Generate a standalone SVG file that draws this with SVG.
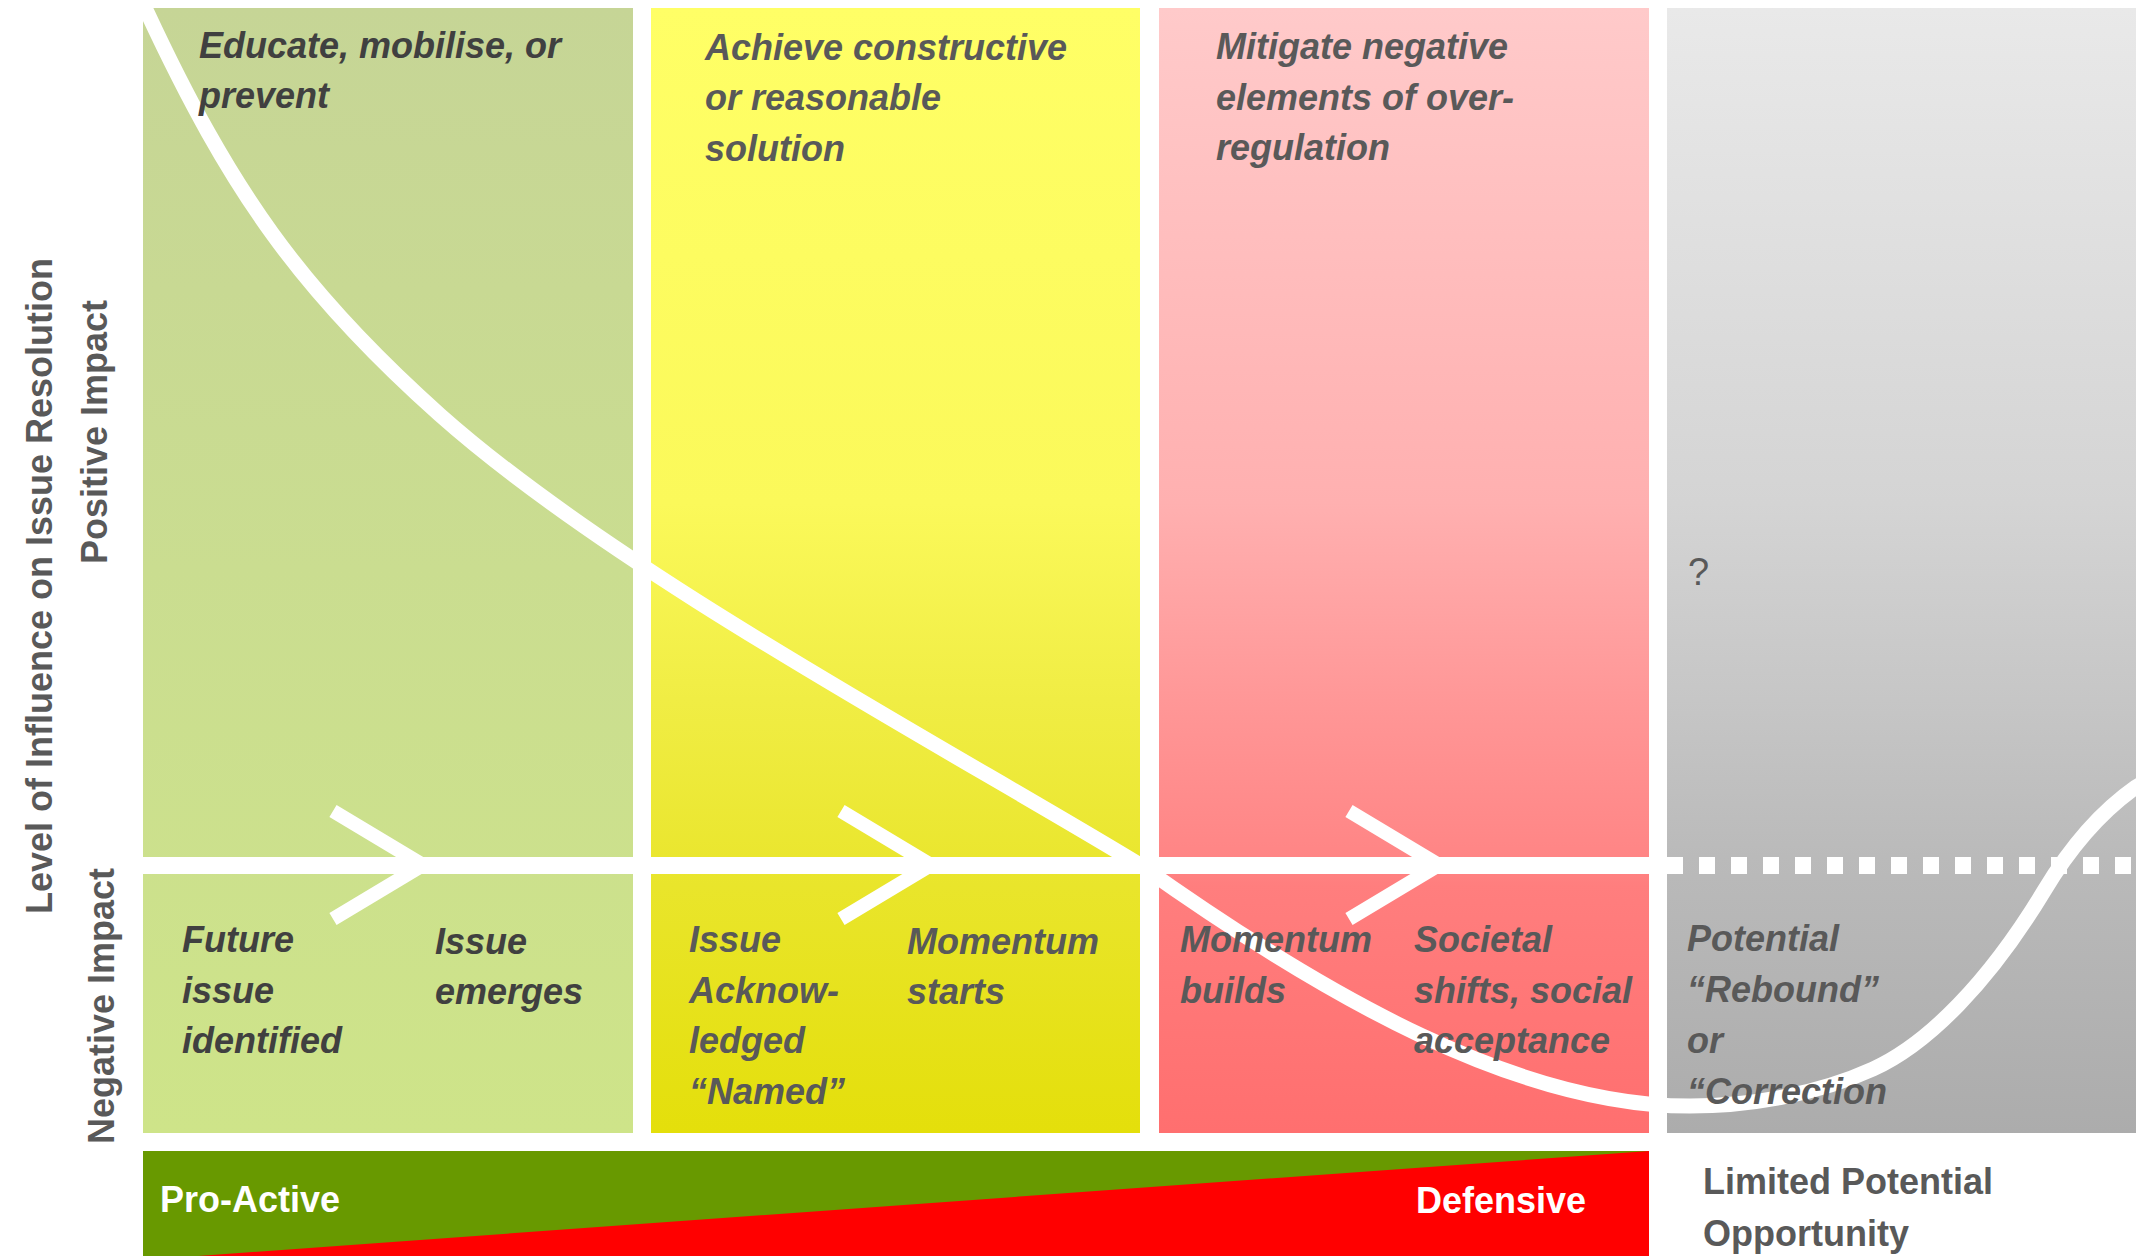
<svg xmlns="http://www.w3.org/2000/svg" width="2136" height="1256" viewBox="0 0 2136 1256">
<defs>
<linearGradient id="gGreen" x1="0" y1="0" x2="0" y2="1">
<stop offset="0" stop-color="#c6d596"/><stop offset="0.5" stop-color="#cadd90"/><stop offset="1" stop-color="#cee489"/>
</linearGradient>
<linearGradient id="gYellow" x1="0" y1="0" x2="0" y2="1">
<stop offset="0" stop-color="#ffff66"/><stop offset="0.44" stop-color="#fbf95a"/><stop offset="0.615" stop-color="#f0ed44"/><stop offset="0.78" stop-color="#e9e52b"/><stop offset="1" stop-color="#e4df0b"/>
</linearGradient>
<linearGradient id="gPink" x1="0" y1="0" x2="0" y2="1">
<stop offset="0" stop-color="#ffcaca"/><stop offset="0.44" stop-color="#ffb0b0"/><stop offset="0.615" stop-color="#ff9797"/><stop offset="0.755" stop-color="#ff8585"/><stop offset="0.78" stop-color="#ff7e7e"/><stop offset="1" stop-color="#ff6f6f"/>
</linearGradient>
<linearGradient id="gGrey" x1="0" y1="0" x2="0" y2="1">
<stop offset="0" stop-color="#e9e9e9"/><stop offset="0.44" stop-color="#d4d4d4"/><stop offset="0.615" stop-color="#c6c6c6"/><stop offset="0.755" stop-color="#bababa"/><stop offset="1" stop-color="#acacac"/>
</linearGradient>
</defs>
<style>
.lbl{font-family:"Liberation Sans",Arial,sans-serif;font-weight:bold;font-style:italic;font-size:36px;fill:#595959}
.dark{fill:#404040}
.axis{font-family:"Liberation Sans",Arial,sans-serif;font-weight:bold;font-size:36px;fill:#595959}
.bar{font-family:"Liberation Sans",Arial,sans-serif;font-weight:bold;font-size:36px;fill:#ffffff}
.wline{fill:none;stroke:#ffffff}
</style>
<rect width="2136" height="1256" fill="#ffffff"/>

<g id="col-educate">
<rect x="143" y="8" width="490" height="1125" fill="url(#gGreen)"/>
</g>
<g id="col-achieve">
<rect x="651" y="8" width="489" height="1125" fill="url(#gYellow)"/>
</g>
<g id="col-mitigate">
<rect x="1159" y="8" width="490" height="1125" fill="url(#gPink)"/>
</g>
<g id="col-rebound">
<rect x="1667" y="8" width="469" height="1125" fill="url(#gGrey)"/>
</g>

<g id="connectors">
<line class="wline" x1="143" y1="865.5" x2="1667" y2="865.5" stroke-width="17"/>
<line class="wline" x1="1667" y1="865.5" x2="2136" y2="865.5" stroke-width="17" stroke-dasharray="16 16"/>
<polyline class="wline" points="333,811 423,865 333,919" stroke-width="14" stroke-linejoin="miter"/>
<polyline class="wline" points="841,811 931,865 841,919" stroke-width="14" stroke-linejoin="miter"/>
<polyline class="wline" points="1349,811 1439,865 1349,919" stroke-width="14" stroke-linejoin="miter"/>
<path class="wline" stroke-width="15" d="M 143 3 L 147 12 C 230 190, 300 290, 440 415 C 620 575, 960 755, 1140 865 C 1330 1000, 1520 1106, 1690 1106 C 1750 1106, 1818 1094, 1873 1069 C 1928 1044, 1989 982, 2044 891 C 2074 841, 2106 808, 2136 787 L 2160 772"/>
</g>

<g id="axis-labels">
<text class="axis" transform="translate(52,586) rotate(-90)" text-anchor="middle">Level of Influence on Issue Resolution</text>
<text class="axis" transform="translate(107,432) rotate(-90)" text-anchor="middle">Positive Impact</text>
<text class="axis" transform="translate(114,1006) rotate(-90)" text-anchor="middle">Negative Impact</text>
</g>

<g id="label-educate">
<text class="lbl dark" x="199" y="58">Educate, mobilise, or<tspan x="199" y="108">prevent</tspan></text>
</g>
<g id="label-achieve">
<text class="lbl" x="705" y="60">Achieve constructive<tspan x="705" y="110">or reasonable</tspan><tspan x="705" y="161">solution</tspan></text>
</g>
<g id="label-mitigate">
<text class="lbl" x="1216" y="59">Mitigate negative<tspan x="1216" y="110">elements of over-</tspan><tspan x="1216" y="160">regulation</tspan></text>
</g>
<g id="label-question">
<text x="1688" y="585" style="font-family:'Liberation Sans',Arial,sans-serif;font-size:38px;fill:#595959">?</text>
</g>

<g id="stage-future">
<text class="lbl dark" x="182" y="952">Future<tspan x="182" y="1003">issue</tspan><tspan x="182" y="1053">identified</tspan></text>
</g>
<g id="stage-emerges">
<text class="lbl dark" x="435" y="954">Issue<tspan x="435" y="1004">emerges</tspan></text>
</g>
<g id="stage-acknowledged">
<text class="lbl" x="689" y="952">Issue<tspan x="689" y="1003">Acknow-</tspan><tspan x="689" y="1053">ledged</tspan><tspan x="689" y="1104">“Named”</tspan></text>
</g>
<g id="stage-starts">
<text class="lbl" x="907" y="954">Momentum<tspan x="907" y="1004">starts</tspan></text>
</g>
<g id="stage-builds">
<text class="lbl" x="1180" y="952">Momentum<tspan x="1180" y="1003">builds</tspan></text>
</g>
<g id="stage-societal">
<text class="lbl" x="1414" y="952">Societal<tspan x="1414" y="1003">shifts, social</tspan><tspan x="1414" y="1053">acceptance</tspan></text>
</g>
<g id="stage-rebound">
<text class="lbl" x="1687" y="951">Potential<tspan x="1687" y="1002">“Rebound”</tspan><tspan x="1687" y="1053">or</tspan><tspan x="1687" y="1104">“Correction</tspan></text>
</g>

<g id="stance-bar">
<rect x="143" y="1151" width="1506" height="105" fill="#689900"/>
<polygon points="143,1260 1649,1151 1649,1256 143,1256" fill="#ff0000"/>
<text class="bar" x="160" y="1212">Pro-Active</text>
<text class="bar" x="1416" y="1213">Defensive</text>
</g>
<g id="label-limited">
<text class="axis" x="1703" y="1194">Limited Potential<tspan x="1703" y="1246">Opportunity</tspan></text>
</g>
</svg>
